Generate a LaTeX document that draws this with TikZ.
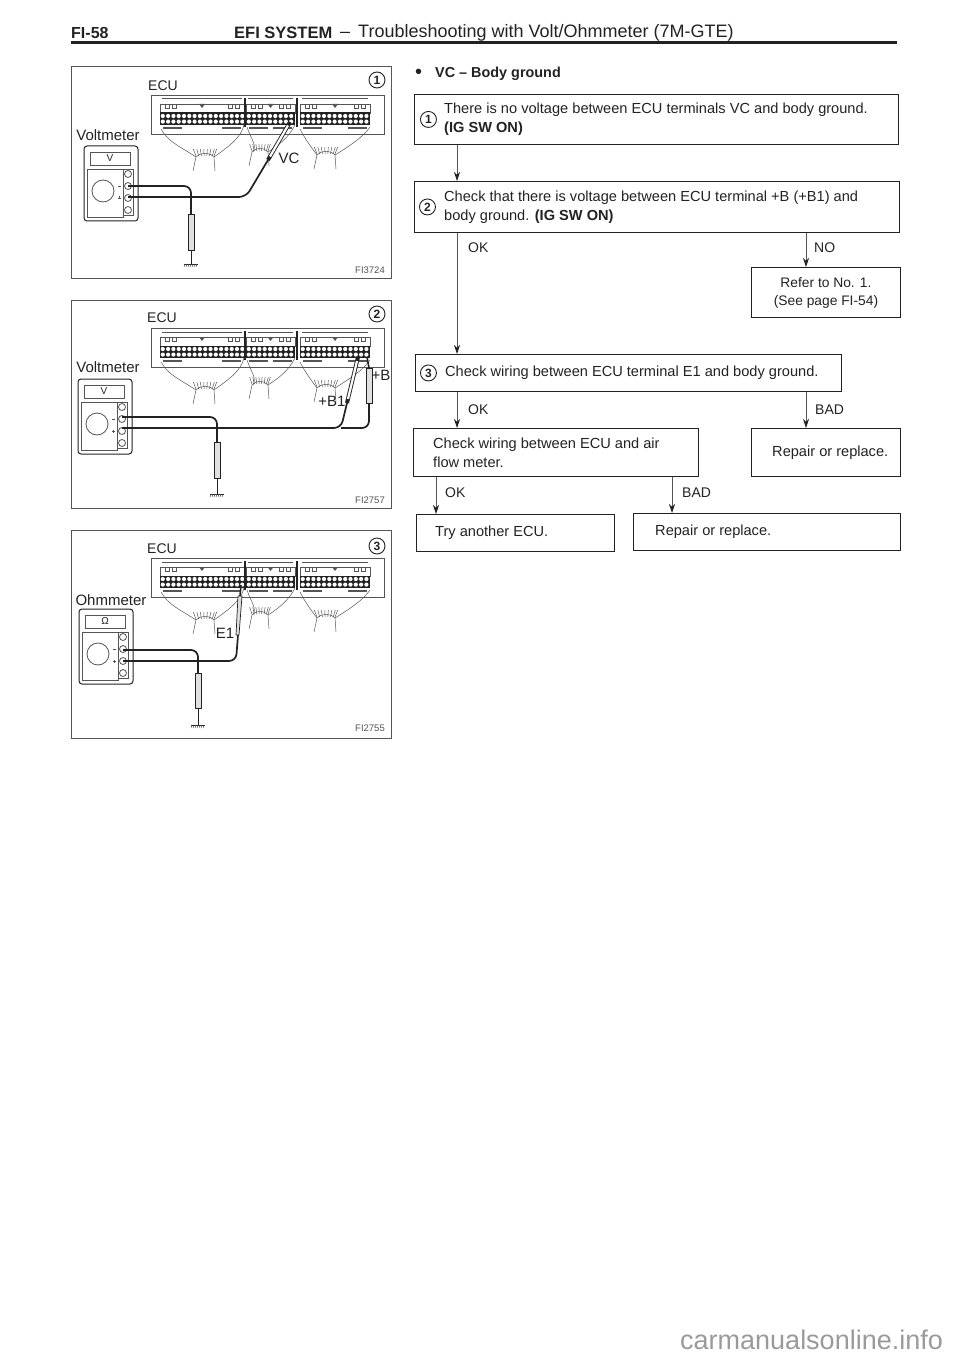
\documentclass[tikz,border=0pt]{standalone}
\usepackage{fontspec}
\setmainfont{Liberation Sans}
\usepackage{xcolor}
\usetikzlibrary{positioning,arrows.meta}
\definecolor{ink}{HTML}{222222}
\definecolor{soft}{HTML}{555555}
\definecolor{mark}{HTML}{9A9A9A}
\tikzset{
  stepbox/.style  = {rectangle, draw=ink, line width=0.9pt, inner sep=0pt},
  steptext/.style = {inner sep=0pt, align=left, text=ink, font=\fontsize{14.6}{19}\selectfont},
  reply/.style    = {inner sep=0pt, text=ink, font=\fontsize{14}{17}\selectfont},
  flow/.style     = {-{Stealth[length=9pt,width=6pt,color=ink]}, line width=0.8pt, draw=soft},
  num/.style      = {circle, draw=ink, line width=0.9pt, inner sep=0pt, minimum size=16pt,
                     text=ink, font=\fontsize{12}{12}\selectfont\bfseries},
  frame/.style    = {draw=soft, line width=1pt},
  tag/.style      = {inner sep=0pt, text=ink, font=\fontsize{15}{15}\selectfont},
  ecutag/.style   = {inner sep=0pt, text=ink, font=\fontsize{14}{14}\selectfont},
  figno/.style    = {inner sep=0pt, text=soft, font=\fontsize{9.5}{10}\selectfont},
  thinw/.style    = {draw=soft, line width=0.5pt},
  lead/.style     = {draw=ink, line width=1.7pt, rounded corners=7pt},
  probe/.style    = {draw=ink, fill=black!12, line width=0.7pt},
}
% one harness leaving the ECU: centre x, centre y, half width
\newcommand{\wirefan}[3]{%
  \draw[thinw] ({#1-#3},{#2+3}) .. controls ({#1-#3*0.4},{#2-2}) and ({#1+#3*0.4},{#2-2}) .. ({#1+#3},{#2+3});
  \foreach \a in {-1,-0.7,-0.4,-0.1,0.2,0.5,0.8,1} {
    \draw[thinw] ({#1+\a*#3},{#2+2}) -- ({#1+\a*#3*1.3},{#2-5}); }
  \draw[thinw] ({#1-#3},{#2+3}) -- ({#1-#3-3},{#2+17});
  \draw[thinw] ({#1+#3},{#2+3}) -- ({#1+#3+1},{#2+17});
}
\newcommand{\ecublock}{%
  \draw[thinw, line width=0.8pt] (80,28) rectangle (313,67);
  \foreach \xa/\xb/\n in {89/173/16,175/224/9,229/299/13} {
    \draw[soft, line width=1pt] ({\xa+2},32) -- ({\xb-2},32);
    \draw[thinw] (\xa,37) rectangle (\xb,46);
    \fill[ink] (\xa,45.5) rectangle (\xb,58);
    \foreach \p in {1,...,\n} {
      \fill[white] ({\xa-2.5+5.3*\p},49) circle (2.1);
      \fill[white] ({\xa-2.5+5.3*\p},54.6) circle (2.1); }
    \draw[thinw] ({\xa+5},37) rectangle ({\xa+9},41);
    \draw[thinw] ({\xa+12},37) rectangle ({\xa+16},41);
    \draw[thinw] ({\xb-16},37) rectangle ({\xb-12},41);
    \draw[thinw] ({\xb-9},37) rectangle ({\xb-5},41);
    \fill[soft] ({(\xa+\xb)/2-3},37) -- ({(\xa+\xb)/2+3},37) -- ({(\xa+\xb)/2},41) -- cycle;
    \draw[soft, line width=1.2pt] ({\xa+3},61) -- ({\xa+22},61);
    \draw[soft, line width=1.2pt] ({\xb-22},61) -- ({\xb-3},61);
  }
  \draw[ink, line width=1.2pt] (174,31) -- (174,60);
  \draw[ink, line width=1.2pt] (226,31) -- (226,60);
  \draw[thinw] (90,62) .. controls (97,75) and (110,80) .. (125,90);
  \draw[thinw] (173,58) .. controls (170,70) and (160,78) .. (143,90);
  \draw[thinw] (176,60) .. controls (180,72) and (186,78) .. (182,85);
  \draw[thinw] (224,58) .. controls (218,70) and (208,78) .. (197,85);
  \draw[thinw] (229,62) .. controls (234,72) and (240,80) .. (246,88);
  \draw[thinw] (299,60) .. controls (292,70) and (280,78) .. (264,88);
  \wirefan{134}{87}{9}
  \wirefan{189}{82}{8}
  \wirefan{255}{85}{9}
}
% the meter: left edge in the panel, node suffix, dial letter
\newcommand{\testmeter}[3]{%
  \begin{scope}[shift={(#1,0)}]
    \draw[draw=ink, line width=1pt, rounded corners=3pt] (0,79) rectangle (54,154);
    \draw[thinw, line width=0.8pt] (6,85) rectangle (46,98);
    \node[inner sep=0pt, text=ink, font=\fontsize{10}{10}\selectfont] (dial#2) at (26,91.5) {#3};
    \draw[thinw, line width=0.8pt] (3,102) rectangle (39,150);
    \draw[thinw, line width=0.8pt] (39,102) rectangle (49,148);
    \draw[thinw, line width=0.8pt] (19,124) circle (11);
    \foreach \ty in {107,119,131,143} { \draw[thinw, line width=0.8pt, fill=white] (44,\ty) circle (3.5); }
    \draw[thinw] (34,119) -- (37,119);
    \draw[thinw] (34,131) -- (37,131);
    \draw[thinw] (35.5,129.5) -- (35.5,132.5);
  \end{scope}
}
\newcommand{\gndsym}[2]{%
  \draw[ink, line width=1pt] ({#1-7},#2) -- ({#1+7},#2);
  \foreach \h in {-6,-4,...,6} { \draw[thinw] ({#1+\h},#2) -- ({#1+\h-1},{#2+3}); }
}

\begin{document}
\begin{tikzpicture}[x=1pt, y=-1pt]
  \useasboundingbox (0,0) rectangle (960,1356);

  %% ---------------- page heading ------------------------------------------
  \node[inner sep=0pt, anchor=west, text=ink, font=\fontsize{16}{16}\selectfont\bfseries] (pageno) at (71,33) {FI-58};
  \node[inner sep=0pt, anchor=west, text=ink, font=\fontsize{16.5}{17}\selectfont\bfseries] (pagehead) at (234,33) {EFI SYSTEM};
  \node[inner sep=0pt, anchor=west, text=ink, font=\fontsize{18}{18}\selectfont] (pagesub) at (340,33)
    {-- \,Troubleshooting with Volt/Ohmmeter (7M-GTE)};
  \draw[ink, line width=2.4pt] (71,42.5) -- (897,42.5);

  %% ---------------- panel 1: VC ------------------------------------------
  \begin{scope}[shift={(71,67)}]
    \draw[frame] (0,0) rectangle (320,211);
    \ecublock
    \testmeter{13}{a}{V}
    \node[ecutag] (ecua) at (92,19) {ECU};
    \node[tag] (metera) at (37,68) {Voltmeter};
    \node[num] (numa) at (306,13) {1};
    \node[figno] (figa) at (299,203) {FI3724};
    \draw[lead] (57,119) -- (120,119) -- (120,147);
    \draw[lead] (57,130) -- (175,130) -- (197,93);
    \draw[ink, line width=4pt] (197,93) -- (219,55);
    \draw[white, line width=2.2pt] (199,89.5) -- (217,58.5);
    \draw[probe] (117,147) rectangle (123,183);
    \draw[ink, line width=1pt] (120,183) -- (120,197);
    \gndsym{120}{197}
    \node[tag] (vcprobe) at (218,91) {VC};
  \end{scope}

  %% ---------------- panel 2: +B and +B1 ------------------------------------------
  \begin{scope}[shift={(71,300)}]
    \draw[frame] (0,0) rectangle (320,208);
    \ecublock
    \testmeter{7}{b}{V}
    \node[ecutag] (ecub) at (91,18) {ECU};
    \node[tag] (meterb) at (37,67) {Voltmeter};
    \node[num] (numb) at (306,14) {2};
    \node[figno] (figb) at (299,200) {FI2757};
    \draw[lead] (51,117) -- (146,117) -- (146,142);
    \draw[lead] (51,128) -- (270,128) -- (276,103);
    \draw[lead] (270,128) -- (298,128) -- (298,103);
    \draw[ink, line width=4pt] (276,103) -- (287,57);
    \draw[white, line width=2.2pt] (277,99) -- (286,61);
    \draw[probe] (295,68) rectangle (301,103);
    \draw[ink, line width=1.6pt] (298,68) -- (296,57);
    \draw[probe] (143,142) rectangle (149,178);
    \draw[ink, line width=1pt] (146,178) -- (146,194);
    \gndsym{146}{194}
    \node[tag] (bplus) at (310,75) {+B};
    \node[tag] (bone) at (261,101) {+B1};
  \end{scope}

  %% ---------------- panel 3: E1 ------------------------------------------
  \begin{scope}[shift={(71,530)}]
    \draw[frame] (0,0) rectangle (320,208);
    \ecublock
    \testmeter{8}{c}{Ω}
    \node[ecutag] (ecuc) at (91,19) {ECU};
    \node[tag] (meterc) at (40,70) {Ohmmeter};
    \node[num] (numc) at (306,16) {3};
    \node[figno] (figc) at (299,198) {FI2755};
    \draw[lead] (52,120) -- (127,120) -- (127,143);
    \draw[lead] (52,131) -- (165,131) -- (167,105);
    \draw[probe] (165,105) -- (168,105) -- (171,66) -- (167,66) -- cycle;
    \draw[ink, line width=1.6pt] (169,66) -- (170,55);
    \draw[probe] (124,143) rectangle (130,178);
    \draw[ink, line width=1pt] (127,178) -- (127,195);
    \gndsym{127}{195}
    \node[tag] (eone) at (154,103) {E1};
  \end{scope}

  %% ---------------- flow chart ------------------------------------------
  \node[inner sep=0pt, anchor=west, text=ink, font=\fontsize{20}{20}\selectfont] (cbullet) at (415,74) {\textbullet};
  \node[inner sep=0pt, anchor=west, text=ink, font=\fontsize{14.4}{14}\selectfont\bfseries] (chead) at (435,74)
    {VC -- Body ground};

  \node[stepbox, anchor=north west, minimum width=484pt, minimum height=50pt] (chk1) at (414,94) {};
  \node[stepbox, anchor=north west, minimum width=485pt, minimum height=51pt] (chk2) at (414,181) {};
  \node[stepbox, anchor=north west, minimum width=149pt, minimum height=50pt] (refer) at (751,267) {};
  \node[stepbox, anchor=north west, minimum width=426pt, minimum height=37pt] (chk3) at (415,354) {};
  \node[stepbox, anchor=north west, minimum width=285pt, minimum height=48pt] (wiring) at (413,428) {};
  \node[stepbox, anchor=north west, minimum width=149pt, minimum height=48pt] (repa) at (751,428) {};
  \node[stepbox, anchor=north west, minimum width=198pt, minimum height=37pt] (tryecu) at (416,514) {};
  \node[stepbox, anchor=north west, minimum width=267pt, minimum height=37pt] (repb) at (633,513) {};

  \node[num, right=6pt of chk1.west] (num1) {1};
  \node[num, right=5pt of chk2.west] (num2) {2};
  \node[num, right=5pt of chk3.west] (num3) {3};
  \node[steptext, right=30pt of chk1.west] (txt1)
    {There is no voltage between ECU terminals VC and body ground.\\\textbf{(IG SW ON)}};
  \node[steptext, right=30pt of chk2.west] (txt2)
    {Check that there is voltage between ECU terminal +B (+B1) and\\body ground. \textbf{(IG SW ON)}};
  \node[steptext, align=center, at=(refer.center), font=\fontsize{13.8}{18}\selectfont] (txtrefer) {Refer to No. 1.\\(See page FI-54)};
  \node[steptext, right=30pt of chk3.west] (txt3) {Check wiring between ECU terminal E1 and body ground.};
  \node[steptext, right=20pt of wiring.west] (txtwiring) {Check wiring between ECU and air\\flow meter.};
  \node[steptext, right=21pt of repa.west] (txtrepa) {Repair or replace.};
  \node[steptext, right=19pt of tryecu.west] (txttry) {Try another ECU.};
  \node[steptext, right=22pt of repb.west] (txtrepb) {Repair or replace.};

  \coordinate (trunk) at (457,0);
  \coordinate (branch) at (806,0);
  \coordinate (lowok) at (436,0);
  \coordinate (lowbad) at (672,0);
  \draw[flow] (chk1.south -| trunk) -- (chk2.north -| trunk);
  \draw[flow] (chk2.south -| trunk) -- (chk3.north -| trunk);
  \draw[flow] (chk2.south -| branch) -- (refer.north -| branch);
  \draw[flow] (chk3.south -| trunk) -- (wiring.north -| trunk);
  \draw[flow] (chk3.south -| branch) -- (repa.north -| branch);
  \draw[flow] (wiring.south -| lowok) -- (tryecu.north -| lowok);
  \draw[flow] (wiring.south -| lowbad) -- (repb.north -| lowbad);

  \node[reply, anchor=west] (oka) at (468,248) {OK};
  \node[reply, anchor=west] (noa) at (814,248) {NO};
  \node[reply, anchor=west] (okb) at (468,410) {OK};
  \node[reply, anchor=west] (bada) at (815,410) {BAD};
  \node[reply, anchor=west] (okc) at (445,493) {OK};
  \node[reply, anchor=west] (badb) at (682,493) {BAD};

  %% ---------------- site mark ------------------------------------------
  \node[inner sep=0pt, anchor=west, text=mark, font=\fontsize{27}{27}\selectfont] (sitemark) at (680,1340) {carmanualsonline.info};
\end{tikzpicture}
\end{document}
